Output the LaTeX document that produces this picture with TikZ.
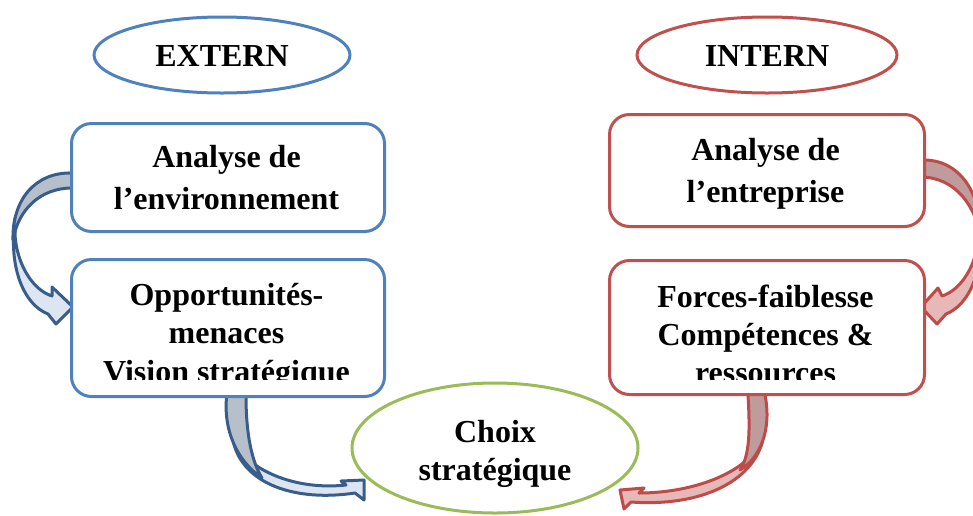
\documentclass[tikz,border=0pt]{standalone}
\usepackage{fontspec}
\setmainfont{Liberation Serif}
\usetikzlibrary{shapes.geometric}
\definecolor{bluebox}{HTML}{4F81BD}
\definecolor{bluearrow}{HTML}{385D8A}
\definecolor{bluedark}{HTML}{B7BFCB}
\definecolor{bluelight}{HTML}{DCE6F2}
\definecolor{redbox}{HTML}{C0504D}
\definecolor{redarrow}{HTML}{BE4B48}
\definecolor{reddark}{HTML}{C09B9B}
\definecolor{redlight}{HTML}{E6B9B8}
\definecolor{greenbox}{HTML}{9BBB59}
\begin{document}
\begin{tikzpicture}[x=1pt,y=-1pt,
  txt/.style={font=\fontsize{32}{38}\selectfont\bfseries, anchor=base, inner sep=0pt},
  panel/.style={draw=#1, line width=3pt, rounded corners=20pt, fill=white,
                anchor=north west, inner sep=0pt, minimum width=313pt},
  oval/.style={ellipse, draw=#1, line width=3pt, fill=white, inner sep=0pt},
  ribbon/.style={draw=#1, line width=3pt, line join=round},
]
\clip (0,0) rectangle (973,515);

% curved block arrows (drawn first, the boxes sit on top of their tails)
% left: environment -> opportunities
\fill[bluelight, ribbon=bluearrow]
  (15,218) .. controls (8,270) and (25,305) .. (48,314) -- (56,324) -- (73,307)
  -- (52,287) -- (52,296) .. controls (33,290) and (17,265) .. (15,235) -- cycle;
\fill[bluedark, ribbon=bluearrow]
  (72,173) .. controls (35,172) and (12,200) .. (13,240)
  .. controls (18,210) and (40,188) .. (72,188) -- cycle;
% left: opportunities -> strategic choice
\fill[bluelight, ribbon=bluearrow]
  (233.6,443) .. controls (244,484) and (295,502) .. (355,493) -- (364,500)
  -- (364,480) -- (341,481) -- (346,485) .. controls (300,490) and (258,474) .. (239,450) -- cycle;
\fill[bluedark, ribbon=bluearrow]
  (227,393) .. controls (222,430) and (238,462) .. (262,478)
  .. controls (252,462) and (246,435) .. (246,396) -- (233,387) -- cycle;
% right: company -> strengths
\fill[redlight, ribbon=redarrow]
  (979,218) .. controls (986,270) and (969,305) .. (946,314) -- (937,324) -- (921,307)
  -- (938,288) -- (942,296) .. controls (961,290) and (977,265) .. (979,235) -- cycle;
\fill[reddark, ribbon=redarrow]
  (922,160) .. controls (959,159) and (982,192) .. (981,240)
  .. controls (976,205) and (955,178) .. (922,177) -- cycle;
% right: strengths -> strategic choice
\fill[redlight, ribbon=redarrow]
  (762.6,441) .. controls (752,482) and (700,507) .. (631,502) -- (624,509)
  -- (620,490) -- (644,488) -- (639,493) .. controls (690,493) and (740,475) .. (757,448) -- cycle;
\fill[reddark, ribbon=redarrow]
  (765,395) .. controls (772,430) and (760,458) .. (740,470)
  .. controls (750,455) and (750,430) .. (748,395) -- (760,387) -- cycle;

% headers
\node[oval=bluebox, minimum width=256pt, minimum height=76pt] (ext) at (222,55) {};
\node[txt] (extT) at (222,66) {EXTERN};
\node[oval=redbox, minimum width=260pt, minimum height=76pt] (int) at (767,55) {};
\node[txt] (intT) at (767,66) {INTERN};

% external side
\node[panel=bluebox, minimum height=108pt] (env) at (70,122) {};
\node[txt] (envA) at (226.5,167) {Analyse de};
\node[txt] (envB) at (226.5,209) {l’environnement};
\node[panel=bluebox, minimum height=137pt] (opp) at (70,258) {};
\node[txt] (oppA) at (226.5,305) {Opportunités-};
\node[txt] (oppB) at (226.5,343) {menaces};
\begin{scope}
  \clip (72,260) rectangle (381,379);
  \node[txt] (oppC) at (226.5,382) {Vision stratégique};
\end{scope}

% internal side
\node[panel=redbox, minimum width=315pt, minimum height=112pt] (ent) at (608,113) {};
\node[txt] (entA) at (765.5,160) {Analyse de};
\node[txt] (entB) at (765.5,202) {l’entreprise};
\node[panel=redbox, minimum width=315pt, minimum height=134pt] (frc) at (608,259) {};
\node[txt] (frcA) at (765.5,307) {Forces-faiblesse};
\node[txt] (frcB) at (765.5,345) {Compétences \&};
\begin{scope}
  \clip (610,261) rectangle (921,379);
  \node[txt] (frcC) at (765.5,383) {ressources};
\end{scope}

% strategic choice
\node[oval=greenbox, minimum width=286pt, minimum height=130pt] (cho) at (495,448) {};
\node[txt] (choA) at (495,442) {Choix};
\node[txt] (choB) at (495,480) {stratégique};
\end{tikzpicture}
\end{document}
